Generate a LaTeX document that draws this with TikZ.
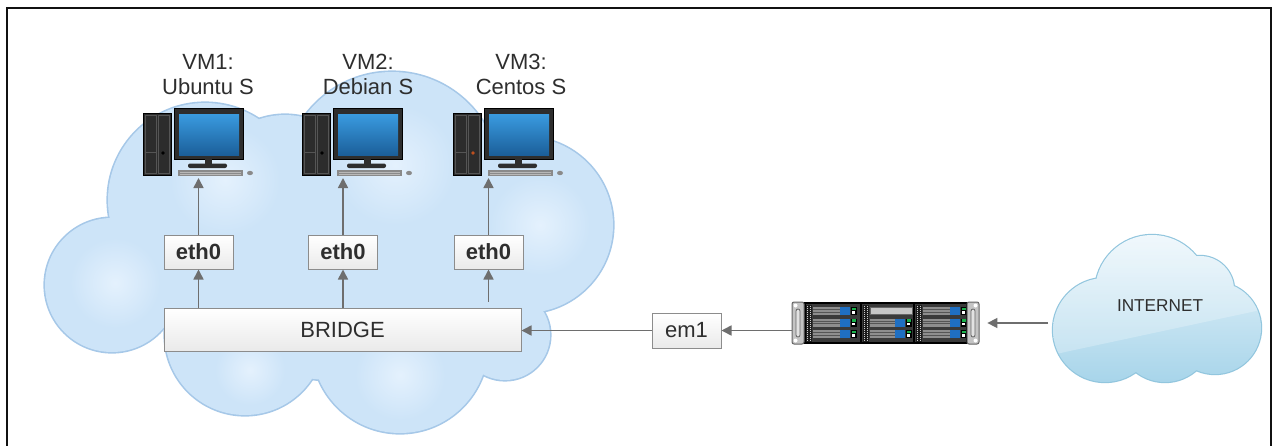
\documentclass[tikz,border=0pt]{standalone}
\usepackage{fontspec}
\setmainfont{Liberation Sans}
\usetikzlibrary{arrows.meta}

\definecolor{cloudfill}{HTML}{CDE4F8}
\definecolor{cloudhi}{HTML}{E4F1FD}
\definecolor{cloudedge}{HTML}{A6C8E8}
\definecolor{inettop}{HTML}{EEF7FC}
\definecolor{inetbot}{HTML}{A4D3E9}
\definecolor{inetedge}{HTML}{92C6DE}
\definecolor{arrowgray}{HTML}{6E6E6E}
\definecolor{boxedge}{HTML}{8C8C8C}
\definecolor{boxbottom}{HTML}{EAEAEA}
\definecolor{textdark}{HTML}{2E2E2E}
\definecolor{framecol}{HTML}{111111}
\definecolor{towerfill}{HTML}{2C2C2C}
\definecolor{towerline}{HTML}{555555}
\definecolor{monframe}{HTML}{2E2E2E}
\definecolor{screentop}{HTML}{3A9BE0}
\definecolor{screenbot}{HTML}{1B5F9A}
\definecolor{kbgray}{HTML}{8A8A8A}
\definecolor{kbkey}{HTML}{B8B8B8}
\definecolor{btnorange}{HTML}{BE501E}
\definecolor{srvbody}{HTML}{3A3A3A}
\definecolor{srvstrip}{HTML}{1C1C1C}
\definecolor{srvdots}{HTML}{CFCFCF}
\definecolor{srvpanel}{HTML}{C6C6C6}
\definecolor{drivegray}{HTML}{8E8E8E}
\definecolor{driveline}{HTML}{555555}
\definecolor{handleblue}{HTML}{1F6FC2}
\definecolor{ledgreen}{HTML}{19B04A}
\definecolor{eargray}{HTML}{C4C4C4}
\definecolor{eardark}{HTML}{666666}
\definecolor{earslot}{HTML}{E2E2E2}

\tikzset{
  % desktop computer: tower, monitor, keyboard, mouse; #1 = power button colour
  pics/workstation/.style={code={
    \draw[fill=towerfill, draw=black, line width=0.5pt] (0,5) rectangle (28,67);
    \draw[towerline, line width=0.5pt] (2,7) rectangle (13,65) (15,7) rectangle (26,65);
    \draw[towerline, line width=0.5pt] (2,44) -- (13,44);
    \fill[#1] (20,45) circle (1.8);
    \draw[fill=monframe, draw=black, line width=0.5pt] (31,0) rectangle (100,51);
    \shade[top color=screentop, bottom color=screenbot] (36,6) rectangle (96,47);
    \fill[monframe] (62,51) rectangle (69,56);
    \fill[monframe, rounded corners=1pt] (45,55.5) rectangle (84,60);
    \fill[kbgray] (35,62) rectangle (100,68);
    \draw[kbkey, line width=0.4pt] (37,64) -- (98,64) (37,66) -- (98,66);
    \fill[kbgray] (107,65) ellipse (3 and 2.2);
    \coordinate (-in) at (56,70);
  }},
  % 3U rack server front panel, origin at its top-left corner
  pics/rackserver/.style={code={
    \fill[srvbody] (13,1) rectangle (175,41);
    \draw[black, line width=0.6pt] (13,1) rectangle (175,41);
    \draw[black, line width=0.6pt] (69,1) -- (69,41) (122,1) -- (122,41);
    \foreach \sx in {13,70,123}{
      \fill[srvstrip] (\sx+0.5,2.5) rectangle (\sx+7,39.5);
      \draw[srvdots, line width=0.7pt, dash pattern=on 0.45pt off 0.55pt]
        (\sx+2.3,3.5) -- (\sx+2.3,38.5) (\sx+5.2,3.5) -- (\sx+5.2,38.5);
    }
    \draw[fill=srvpanel, draw=eardark, line width=0.4pt] (78,5) rectangle (120,12);
    \foreach \xa/\xb/\yy in {21/48/5, 21/48/16.5, 21/48/28, 78/103/16.5, 78/103/28,
                              131/158/5, 131/158/16.5, 131/158/28}{
      \fill[drivegray] (\xa,\yy) rectangle (\xb,\yy+8);
      \draw[driveline, line width=0.4pt] (\xa,\yy+2.7) -- (\xb,\yy+2.7) (\xa,\yy+5.3) -- (\xb,\yy+5.3);
      \fill[handleblue] (\xb,\yy) rectangle (\xb+10,\yy+8);
      \fill[black] (\xb+10.5,\yy) rectangle (\xb+16.5,\yy+8);
      \fill[ledgreen] (\xb+11.5,\yy+0.8) rectangle (\xb+15.5,\yy+3);
      \fill[white] (\xb+12.3,\yy+4) rectangle (\xb+14.7,\yy+6.8);
    }
    \foreach \ex/\scr in {0/3.5, 175/183.5}{
      \draw[fill=eargray, draw=eardark, line width=0.5pt, rounded corners=1pt] (\ex,0) rectangle (\ex+12,42);
      \draw[fill=earslot, draw=eardark, line width=0.4pt, rounded corners=1pt] (\ex+4,7) rectangle (\ex+8,35);
      \fill[white] (\scr,3.5) circle (2);
      \fill[white] (\scr,38.5) circle (2);
    }
  }}
}

\begin{document}
\begin{tikzpicture}[x=0.5pt, y=-0.5pt,
  conn/.style={draw=arrowgray, line width=0.8pt, -{Triangle[length=5pt,width=5pt]}},
  portbox/.style={draw=boxedge, line width=0.5pt, top color=white, bottom color=boxbottom,
    inner sep=0pt, text=textdark},
  ethbox/.style={portbox, minimum width=34.5pt, minimum height=17pt,
    font=\fontsize{11}{13}\selectfont\bfseries},
  vmlabel/.style={align=center, text=textdark, inner sep=0pt,
    font=\fontsize{11}{12.5}\selectfont},
]
\useasboundingbox (0,0) rectangle (1274,445);
\fill[white] (0,0) rectangle (1274,445);

% outer frame
\draw[framecol, line width=1.2pt] (7,470) -- (7,8) -- (1271,8) -- (1271,470);

% hypervisor cloud: outline first, then fill, then soft highlights
\foreach \cx/\cy/\r in {112/285/67, 205/200/97, 285/195/80, 392/180/108, 525/225/88,
                         505/335/45, 400/345/88, 245/335/80, 330/260/120, 430/270/80}{
  \draw[cloudedge, line width=1.6pt] (\cx,\cy) circle (\r);
}
\foreach \cx/\cy/\r in {112/285/67, 205/200/97, 285/195/80, 392/180/108, 525/225/88,
                         505/335/45, 400/345/88, 245/335/80, 330/260/120, 430/270/80}{
  \fill[cloudfill] (\cx,\cy) circle (\r);
}
\foreach \cx/\cy/\r in {115/283/45, 225/180/55, 395/165/60, 540/225/50, 400/375/45, 250/370/35}{
  \shade[inner color=cloudhi, outer color=cloudfill] (\cx,\cy) circle (\r);
}

% internet cloud
\foreach \cx/\cy/\r in {1152/292/57, 1200/290/34, 1105/330/52, 1215/328/46, 1165/335/47}{
  \draw[inetedge, line width=1.2pt] (\cx,\cy) circle (\r);
}
\begin{scope}
  \clip (1152,292) circle (57) (1200,290) circle (34) (1105,330) circle (52)
        (1215,328) circle (46) (1165,335) circle (47);
  \shade[top color=inettop, bottom color=inetbot] (1040,230) rectangle (1270,390);
  \fill[white, opacity=0.25] (1040,230) -- (1270,230) -- (1270,308) -- (1065,352) -- (1040,358) -- cycle;
\end{scope}
\node[text=textdark, font=\fontsize{8.6}{10}\selectfont, inner sep=0pt] (inet) at (1160,306) {INTERNET};
\coordinate (inetL) at (1048,323);

% virtual machines
\pic (vm1) at (143,108) {workstation=black};
\pic (vm2) at (302,108) {workstation=black};
\pic (vm3) at (453,108) {workstation=btnorange};

\node[vmlabel] (lab1) at (208,74.5) {VM1:\\Ubuntu S};
\node[vmlabel] (lab2) at (368,74.5) {VM2:\\Debian S};
\node[vmlabel] (lab3) at (521,74.5) {VM3:\\Centos S};

% interfaces and bridge
\node[ethbox] (eth1) at (198.5,252) {eth0};
\node[ethbox] (eth2) at (343,252) {eth0};
\node[ethbox] (eth3) at (488.5,252) {eth0};
\node[portbox, minimum width=178.5pt, minimum height=21.5pt,
      font=\fontsize{11}{13}\selectfont] (bridge) at (342.5,329.5) {BRIDGE};
\node[portbox, minimum width=34.5pt, minimum height=17.5pt,
      font=\fontsize{11}{13}\selectfont] (em1) at (686.5,330.5) {em1};

% physical host
\node[inner sep=0pt, minimum width=93.5pt, minimum height=21pt] (srv) at (885.5,323) {};
\pic at (792,302) {rackserver};

% connectors
\draw[conn] (eth1.south |- bridge.north) -- (eth1.south);
\draw[conn] (eth2.south |- bridge.north) -- (eth2.south);
\draw[conn, shorten <=3pt] (eth3.south |- bridge.north) -- (eth3.south);
\draw[conn] (eth1.north) -- (eth1.north |- vm1-in);
\draw[conn] (eth2.north) -- (eth2.north |- vm2-in);
\draw[conn] (eth3.north) -- (eth3.north |- vm3-in);
\draw[conn] (em1.west) -- (em1.west -| bridge.east);
\draw[conn] (srv.west |- em1.east) -- (em1.east);
\draw[conn, shorten >=4pt] (inetL) -- (srv.east);
\end{tikzpicture}
\end{document}
